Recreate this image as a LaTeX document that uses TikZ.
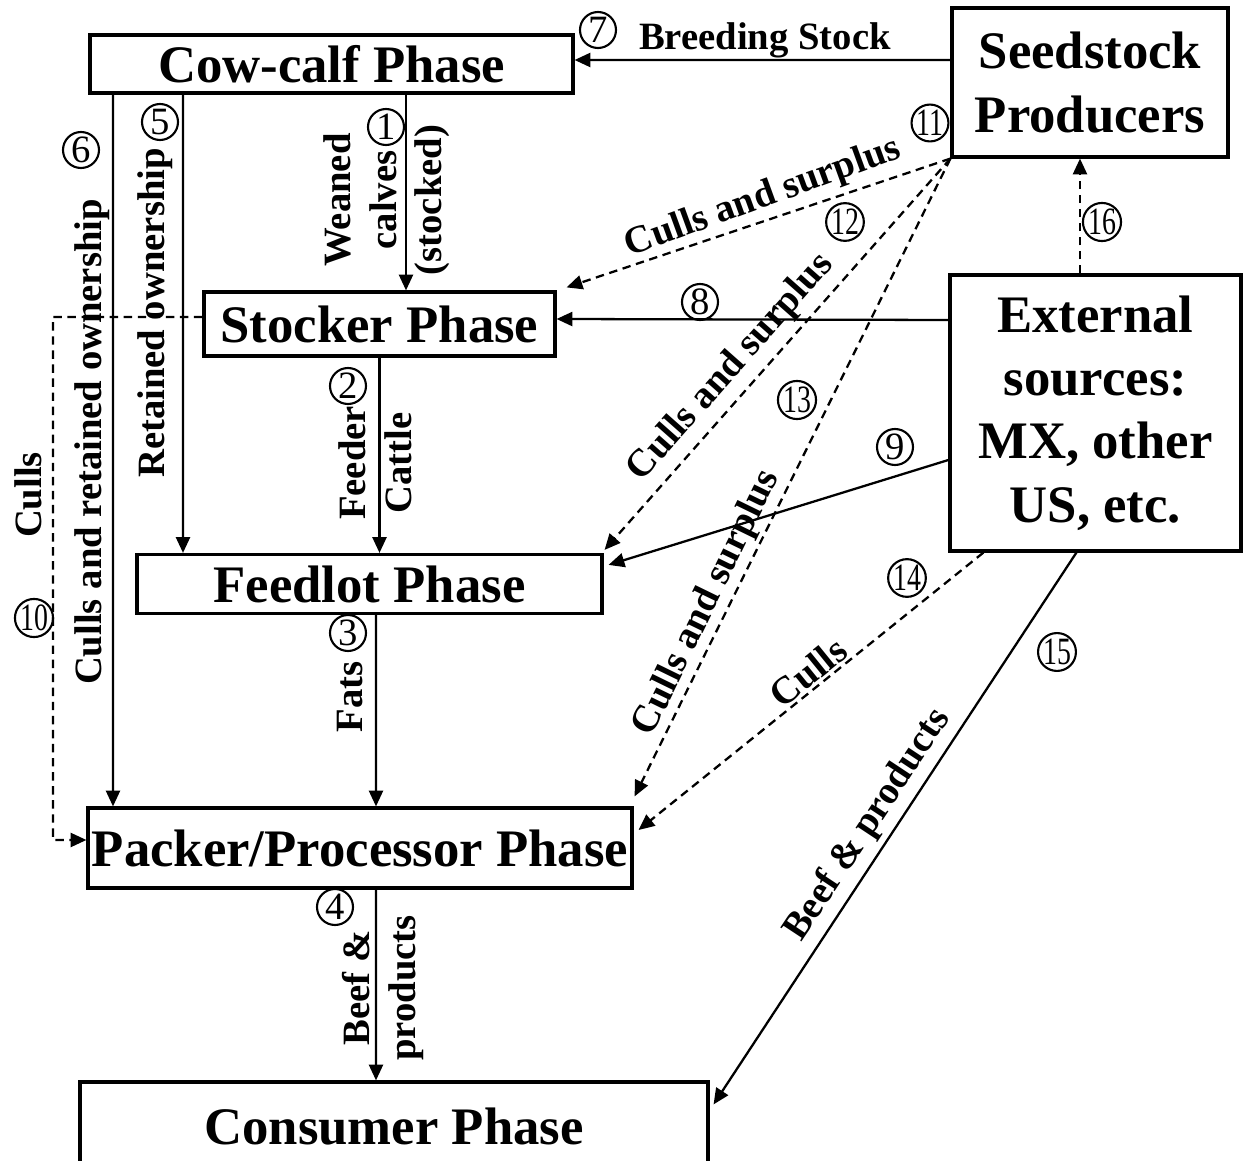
\documentclass[tikz,border=0pt]{standalone}
\usepackage{fontspec}
\setmainfont{Liberation Serif}
\usetikzlibrary{arrows.meta,positioning,calc}

\newcommand{\twodig}[1]{\scalebox{0.72}[1]{#1}}

\begin{document}
\begin{tikzpicture}[->,>={Triangle[length=4.5pt,width=4pt]},line width=0.65pt,
node distance=2.6cm]

\tikzstyle{phase}=[rectangle, draw, line width=0.9pt, inner sep=1pt, align=center,
font=\fontsize{15}{18}\selectfont\bfseries]
\tikzstyle{lbl}=[inner sep=0pt, align=center, font=\fontsize{11}{13}\selectfont\bfseries]
\tikzstyle{num}=[circle, draw, line width=0.6pt, inner sep=0pt, minimum size=0.36cm,
font=\fontsize{11}{11}\selectfont]
\tikzstyle{flow}=[dash pattern=on 2.4pt off 1.6pt]

\useasboundingbox (0,0) rectangle (12.43,-11.61);

%phases
\node[phase, minimum width=4.83cm, minimum height=0.58cm]
(cow) at (3.315,-0.64)
{Cow-calf Phase};

\node[phase, minimum width=3.51cm, minimum height=0.64cm]
(stocker) [below of=cow, xshift=0.48cm]
{Stocker Phase};

\node[phase, minimum width=4.65cm, minimum height=0.59cm]
(feedlot) [below of=stocker, xshift=-0.10cm]
{Feedlot Phase};

\node[phase, minimum width=5.44cm, minimum height=0.80cm]
(packer) [below of=feedlot, xshift=-0.095cm, yshift=-0.04cm]
{Packer/Processor Phase};

\node[phase, minimum width=6.28cm, minimum height=0.90cm]
(consumer) [below of=packer, xshift=0.34cm, yshift=-0.19cm]
{Consumer Phase};

\node[phase, minimum width=2.76cm, minimum height=1.49cm]
(seed) [right of=cow, xshift=4.985cm, yshift=-0.185cm]
{Seedstock\\Producers};

\node[phase, minimum width=2.91cm, minimum height=2.76cm]
(ext) [below of=seed, xshift=0.055cm, yshift=-0.705cm]
{External\\sources:\\MX, other\\US, etc.};

\coordinate (cullsturn) at (0.53,-3.17);

%main chain
\draw[->] ($(cow.south)+(0.745,0)$) -- ($(stocker.north)+(0.265,0)$);
\draw[->] (stocker.south) -- (stocker.south |- feedlot.north);
\draw[->] ($(feedlot.south)+(0.065,0)$) -- ($(packer.north)+(0.16,0)$);
\draw[->] ($(packer.south)+(0.16,0)$) -- ($(consumer.north)+(-0.18,0)$);
\draw[->] ($(cow.south)+(-1.485,0)$) -- ($(feedlot.north)+(-1.865,0)$);
\draw[->] ($(cow.south)+(-2.185,0)$) -- ($(packer.north)+(-2.47,0)$);

%from outside
\draw[->] ($(seed.west)+(0,0.225)$) -- ($(cow.east)+(0,0.04)$);
\draw[->] ($(ext.west)+(0,0.93)$) -- ($(stocker.east)+(0,0.05)$);
\draw[->] ($(ext.west)+(0,-0.47)$) -- ($(feedlot.north east)+(0.05,-0.12)$);
\draw[->,flow] ($(stocker.west)+(0,0.07)$) -- (cullsturn) |- ($(packer.west)+(0,0.08)$);
\draw[->,flow] (seed.south west) -- ($(stocker.north east)+(0.10,0.03)$);
\draw[->,flow] (seed.south west) -- ($(feedlot.north east)+(0.01,0.03)$);
\draw[->,flow] (seed.south west) -- ($(packer.north east)+(0.01,0.10)$);
\draw[->,flow] ($(ext.south west)+(0.35,0)$) -- ($(packer.east)+(0.05,0.18)$);
\draw[->] ($(ext.south west)+(1.28,0)$) -- ($(consumer.north east)+(0.04,-0.24)$);
\draw[->,flow] ($(ext.north)+(-0.155,0)$) -- ($(seed.south)+(-0.10,0)$);

%labels
\node[lbl, rotate=90] (lweaned) at (3.87,-2.00) {Weaned\\calves\\(stocked)};
\node[lbl, rotate=90] (lfeeder) at (3.75,-4.63) {Feeder\\Cattle};
\node[lbl, rotate=90] (lfats) at (3.50,-6.97) {Fats};
\node[lbl, rotate=90] (lbeef) at (3.83,-9.88) {Beef \&\\products};
\node[lbl, rotate=90] (lretained) at (1.55,-3.13) {Retained ownership};
\node[lbl, rotate=90] (lcullsret) at (0.92,-4.42) {Culls and retained ownership};
\node[lbl, rotate=90] (lculls) at (0.28,-4.95) {Culls};
\node[lbl] (lbreeding) at (7.65,-0.40) {Breeding Stock};
\node[lbl, rotate=20] (lsurplusa) at (7.63,-1.98) {Culls and surplus};
\node[lbl, rotate=48.5] (lsurplusb) at (7.31,-3.68) {Culls and surplus};
\node[lbl, rotate=64] (lsurplusc) at (7.07,-6.03) {Culls and surplus};
\node[lbl, rotate=39] (lcullsext) at (8.08,-6.72) {Culls};
\node[lbl, rotate=56.5] (lbeefext) at (8.68,-8.25) {Beef \& products};

%numbers
\node[num] (n1) at (3.86,-1.27) {1};
\node[num] (n2) at (3.48,-3.86) {2};
\node[num] (n3) at (3.48,-6.33) {3};
\node[num] (n4) at (3.35,-9.07) {4};
\node[num] (n5) at (1.60,-1.22) {5};
\node[num] (n6) at (0.81,-1.50) {6};
\node[num] (n7) at (5.98,-0.30) {7};
\node[num] (n8) at (7.00,-3.02) {8};
\node[num] (n9) at (8.95,-4.47) {9};
\node[num] (n10) at (0.34,-6.18) {\twodig{10}};
\node[num] (n11) at (9.30,-1.23) {\twodig{11}};
\node[num] (n12) at (8.45,-2.22) {\twodig{12}};
\node[num] (n13) at (7.97,-4.00) {\twodig{13}};
\node[num] (n14) at (9.07,-5.78) {\twodig{14}};
\node[num] (n15) at (10.57,-6.52) {\twodig{15}};
\node[num] (n16) at (11.02,-2.22) {\twodig{16}};

\end{tikzpicture}
\end{document}
